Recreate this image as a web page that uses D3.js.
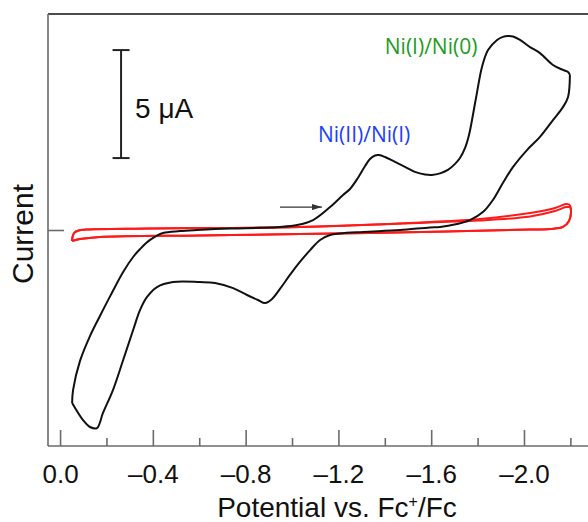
<!DOCTYPE html>
<html>
<head>
<meta charset="utf-8">
<script src="https://cdn.jsdelivr.net/npm/d3@7"></script>
<style>
  html, body { margin: 0; padding: 0; background: #fff; }
  svg { display: block; }
  .lbl { font-family: "Liberation Sans", Arial, sans-serif; fill: #111; }
  .couple { font-family: "Open Sans", sans-serif; }
</style>
</head>
<body>
<svg id="cv" width="588" height="522"></svg>
<script>
// Cyclic voltammogram: potential (V vs Fc+/Fc) and current (µA, cathodic up)

// Ni complex, forward (cathodic) sweep from -0.05 V to -2.2 V
const niForward = [
  [-0.052, -8.01], [-0.056, -7.41], [-0.086, -6.06], [-0.129, -4.91], [-0.172, -3.98],
  [-0.216, -3.06], [-0.272, -1.94], [-0.315, -1.25], [-0.345, -0.88], [-0.388, -0.46],
  [-0.444, -0.14], [-0.517, -0.05], [-0.591, 0.00], [-0.733, 0.07], [-0.862, 0.10],
  [-0.948, 0.14], [-1.022, 0.23], [-1.091, 0.46], [-1.164, 1.06], [-1.220, 1.62],
  [-1.250, 1.90], [-1.284, 2.41], [-1.315, 2.96], [-1.336, 3.29], [-1.358, 3.45],
  [-1.375, 3.47], [-1.401, 3.38], [-1.444, 3.15], [-1.487, 2.92], [-1.530, 2.69],
  [-1.573, 2.57], [-1.603, 2.55], [-1.638, 2.62], [-1.672, 2.78], [-1.703, 3.06],
  [-1.724, 3.33], [-1.746, 3.80], [-1.763, 4.40], [-1.776, 5.09], [-1.797, 6.34],
  [-1.819, 7.55], [-1.845, 8.33], [-1.884, 8.80], [-1.909, 8.94], [-1.931, 8.98],
  [-1.953, 8.96], [-1.983, 8.80], [-2.026, 8.47], [-2.069, 8.19], [-2.125, 7.64],
  [-2.168, 7.41], [-2.190, 7.31], [-2.198, 7.18]
];

// Ni complex, reverse (anodic) sweep back to -0.05 V
const niReverse = [
  [-2.198, 7.18], [-2.190, 6.16], [-2.168, 5.69], [-2.125, 5.09], [-2.069, 4.31],
  [-2.013, 3.70], [-1.953, 2.92], [-1.909, 2.18], [-1.866, 1.39], [-1.823, 0.83],
  [-1.767, 0.46], [-1.711, 0.28], [-1.638, 0.14], [-1.595, 0.12], [-1.466, 0.00],
  [-1.306, -0.09], [-1.207, -0.16], [-1.164, -0.23], [-1.121, -0.46], [-1.078, -0.93],
  [-1.034, -1.48], [-0.991, -2.08], [-0.948, -2.73], [-0.914, -3.19], [-0.884, -3.38],
  [-0.853, -3.24], [-0.806, -3.01], [-0.746, -2.69], [-0.668, -2.45], [-0.603, -2.41],
  [-0.487, -2.41], [-0.418, -2.64], [-0.375, -3.10], [-0.345, -3.70], [-0.315, -4.63],
  [-0.272, -6.02], [-0.228, -7.41], [-0.185, -8.47], [-0.159, -9.17], [-0.129, -9.12],
  [-0.099, -8.80], [-0.052, -8.01]
];

// Blank electrolyte, two cycles
const blankForward1 = [
  [-0.052, -0.51], [-0.054, -0.30], [-0.062, -0.12], [-0.080, -0.02], [-0.110, 0.02],
  [-0.388, 0.07], [-1.034, 0.14], [-1.595, 0.37], [-1.810, 0.51], [-2.026, 0.79],
  [-2.134, 1.02], [-2.181, 1.20], [-2.198, 1.16]
];
const blankForward2 = [
  [-0.052, -0.51], [-0.054, -0.30], [-0.062, -0.12], [-0.080, -0.02], [-0.110, 0.02],
  [-0.388, 0.07], [-1.034, 0.14], [-1.595, 0.35], [-1.810, 0.44], [-2.026, 0.63],
  [-2.134, 0.88], [-2.181, 1.06], [-2.198, 1.06]
];
const blankReverse = [
  [-2.198, 1.16], [-2.203, 0.83], [-2.194, 0.42], [-2.168, 0.14], [-2.112, 0.05],
  [-2.026, 0.02], [-1.668, -0.07], [-1.034, -0.19], [-0.603, -0.25], [-0.172, -0.32],
  [-0.086, -0.42], [-0.052, -0.51]
];

// Axis ticks
const majorTicks = [0.0, -0.4, -0.8, -1.2, -1.6, -2.0];
const minorTicks = [-0.2, -0.6, -1.0, -1.4, -1.8, -2.2];
const tickLabels = ["0.0", "\u20130.4", "\u20130.8", "\u20131.2", "\u20131.6", "\u20132.0"];

// Scale bar (µA) and sweep-direction arrow
const scaleBar = [3.33, 8.33];
const scaleBarE = -0.263;     // potential position of the bar
const scaleBarText = "5 \u03bcA";
const sweepArrow = [[-0.948, 1.06], [-1.129, 1.06]];

const couples = [
  { text: "Ni(II)/Ni(I)", e: -1.112, i: 4.07, color: "#1f3dff" },
  { text: "Ni(I)/Ni(0)",  e: -1.400, i: 8.15, color: "#1c9c1c" }
];

const svg = d3.select("#cv");
const x = d3.scaleLinear().domain([0.052, -2.276]).range([48, 588]);
const y = d3.scaleLinear().domain([-10, 10]).range([446, 14]);

const axisGray = "#6b6b6b";

// Frame: top border
svg.append("line")
  .attr("x1", x.range()[0]).attr("x2", x.range()[1])
  .attr("y1", y(10)).attr("y2", y(10))
  .attr("stroke", "#111").attr("stroke-width", 1.6);

// Bottom axis with major (labelled) and minor ticks, pointing inward
const gx = svg.append("g").attr("transform", `translate(0,${y(-10)})`);
gx.call(d3.axisBottom(x).tickValues(majorTicks).tickSize(-16).tickPadding(19)
    .tickFormat((d, i) => tickLabels[i]));
gx.call(g => g.select(".domain").remove());
const gxm = svg.append("g").attr("transform", `translate(0,${y(-10)})`);
gxm.call(d3.axisBottom(x).tickValues(minorTicks).tickSize(-8).tickFormat(""));
gxm.call(g => g.select(".domain").remove());
svg.selectAll(".tick line").attr("stroke", axisGray).attr("stroke-width", 1.6);
gx.selectAll(".tick text")
  .attr("class", "lbl")
  .attr("font-size", 26)
  .attr("fill", "#111")
  .attr("dy", "0.71em");

// Left axis: single tick at zero current
const gy = svg.append("g").attr("transform", `translate(${x.range()[0]},0)`);
gy.call(d3.axisLeft(y).tickValues([0]).tickSize(-16).tickFormat(""));
gy.call(g => g.select(".domain").remove());
gy.selectAll(".tick line").attr("stroke", axisGray).attr("stroke-width", 1.6);

// Axis lines
svg.append("line")
  .attr("x1", x.range()[0]).attr("x2", x.range()[1])
  .attr("y1", y(-10)).attr("y2", y(-10))
  .attr("stroke", axisGray).attr("stroke-width", 1.6);
svg.append("line")
  .attr("x1", x.range()[0]).attr("x2", x.range()[0])
  .attr("y1", y(10)).attr("y2", y(-10))
  .attr("stroke", axisGray).attr("stroke-width", 1.6);

// Curves
const line = d3.line()
  .x(d => x(d[0])).y(d => y(d[1]))
  .curve(d3.curveCatmullRom.alpha(0.5));

const red = "#ff1a1a";
[blankForward1, blankReverse, blankForward2, blankReverse].forEach(s => {
  svg.append("path").attr("d", line(s))
    .attr("fill", "none").attr("stroke", red).attr("stroke-width", 2);
});
[niForward, niReverse].forEach(s => {
  svg.append("path").attr("d", line(s))
    .attr("fill", "none").attr("stroke", "#111").attr("stroke-width", 2)
    .attr("stroke-linejoin", "round");
});

// Sweep direction arrow
svg.append("defs").append("marker")
  .attr("id", "head").attr("viewBox", "0 0 10 6")
  .attr("refX", 10).attr("refY", 3)
  .attr("markerWidth", 10).attr("markerHeight", 6)
  .attr("markerUnits", "userSpaceOnUse")
  .attr("orient", "auto")
  .append("path").attr("d", "M0,0 L10,3 L0,6 Z").attr("fill", "#333");
svg.append("line")
  .attr("x1", x(sweepArrow[0][0])).attr("y1", y(sweepArrow[0][1]))
  .attr("x2", x(sweepArrow[1][0])).attr("y2", y(sweepArrow[1][1]))
  .attr("stroke", "#333").attr("stroke-width", 1.4)
  .attr("marker-end", "url(#head)");

// Scale bar
const sbx = x(scaleBarE);
svg.append("line")
  .attr("x1", sbx).attr("x2", sbx)
  .attr("y1", y(scaleBar[0])).attr("y2", y(scaleBar[1]))
  .attr("stroke", "#222").attr("stroke-width", 2);
scaleBar.forEach(v => {
  svg.append("line")
    .attr("x1", sbx - 8.5).attr("x2", sbx + 8.5)
    .attr("y1", y(v)).attr("y2", y(v))
    .attr("stroke", "#222").attr("stroke-width", 2);
});
svg.append("text").attr("class", "lbl")
  .attr("x", sbx + 14).attr("y", 118)
  .attr("font-size", 28)
  .text(scaleBarText);

// Redox couple labels
couples.forEach(c => {
  svg.append("text").attr("class", "couple")
    .attr("x", x(c.e)).attr("y", y(c.i))
    .attr("font-size", 21).attr("fill", c.color)
    .text(c.text);
});

// Axis titles
svg.append("text").attr("class", "lbl")
  .attr("text-anchor", "middle")
  .attr("transform", "translate(33,234) rotate(-90)")
  .attr("font-size", 30)
  .text("Current");

const xt = svg.append("text").attr("class", "lbl")
  .attr("text-anchor", "middle")
  .attr("x", 337).attr("y", 517)
  .attr("font-size", 28);
xt.append("tspan").text("Potential vs. Fc");
xt.append("tspan").attr("font-size", 16).attr("dy", -10).text("+");
xt.append("tspan").attr("dy", 10).text("/Fc");
</script>
</body>
</html>
